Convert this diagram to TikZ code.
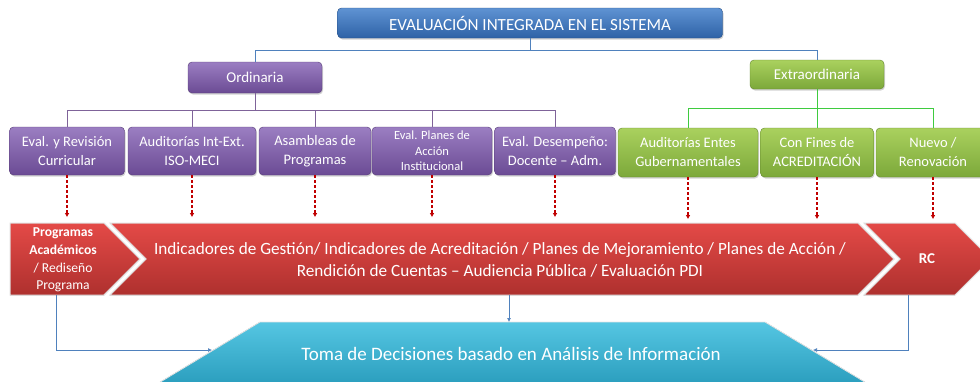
\documentclass[tikz,border=0pt]{standalone}
\usepackage{fontspec}
\setmainfont{Carlito}
\usetikzlibrary{positioning, arrows.meta, shadows}

\definecolor{bluetop}{HTML}{5F93D3}
\definecolor{bluebot}{HTML}{2E62A6}
\definecolor{purtop}{HTML}{9B7EC2}
\definecolor{purbot}{HTML}{6B4B94}
\definecolor{greentop}{HTML}{AAD15E}
\definecolor{greenbot}{HTML}{7CA83A}
\definecolor{redtop}{HTML}{E44A47}
\definecolor{redbot}{HTML}{AE302E}
\definecolor{cyantop}{HTML}{55C6E2}
\definecolor{cyanbot}{HTML}{2B9EBE}
\definecolor{lineblue}{HTML}{4F81BD}
\definecolor{linepur}{HTML}{7F6399}
\definecolor{linegreen}{HTML}{3FCB3F}
\definecolor{dashred}{HTML}{C00000}

\tikzset{
  box/.style={rounded corners=4pt, text=white, align=center, inner sep=2pt,
    font=\fontsize{14.5}{19}\selectfont,
    drop shadow={opacity=0.35, shadow xshift=1pt, shadow yshift=-1.5pt}},
  bluebox/.style={box, top color=bluetop, bottom color=bluebot, draw=bluebot!80!black},
  purbox/.style={box, top color=purtop, bottom color=purbot, draw=purbot!80!black},
  greenbox/.style={box, top color=greentop, bottom color=greenbot, draw=greenbot!80!black},
  band/.style={top color=redtop, bottom color=redbot, draw=white!75!gray, line width=1pt},
  bandtext/.style={text=white, align=center},
  blueline/.style={lineblue, line width=0.8pt},
  purline/.style={linepur, line width=0.8pt},
  greenline/.style={linegreen, line width=0.8pt},
  redarrow/.style={dashred, line width=1.5pt, dash pattern=on 3pt off 2pt, -{Latex[length=4pt, width=4.5pt]}},
  bluearrow/.style={lineblue, line width=0.7pt, -{Latex[length=4pt, width=4pt]}}
}

\begin{document}
\begin{tikzpicture}[x=1pt, y=-1pt]
\useasboundingbox (0,0) rectangle (980,381);

\node[bluebox, minimum width=385pt, minimum height=30pt, font=\fontsize{17}{19}\selectfont] (top) at (530,23) {EVALUACIÓN INTEGRADA EN EL SISTEMA};
\node[purbox, minimum width=134pt, minimum height=31pt, font=\fontsize{15}{17}\selectfont] (ord) at (255,77.5) {Ordinaria};
\node[greenbox, minimum width=134pt, minimum height=29pt, font=\fontsize{15}{17}\selectfont] (ext) at (817,74.5) {Extraordinaria};

\node[purbox, minimum width=115pt, minimum height=48pt] (p1) at (67,151) {Eval. y Revisión\\Curricular};
\node[purbox, minimum width=128pt, minimum height=48pt] (p2) at (192,151) {Auditorías Int-Ext.\\ISO-MECI};
\node[purbox, minimum width=112pt, minimum height=48pt] (p3) at (315,151) {Asambleas de\\Programas};
\node[purbox, minimum width=120pt, minimum height=48pt, font=\fontsize{12.5}{15.5}\selectfont] (p4) at (432,151) {Eval. Planes de\\Acción\\Institucional};
\node[purbox, minimum width=121pt, minimum height=48pt] (p5) at (555,151) {Eval. Desempeño:\\Docente -- Adm.};
\node[greenbox, minimum width=140pt, minimum height=49pt] (g1) at (688,152.5) {Auditorías Entes\\Gubernamentales};
\node[greenbox, minimum width=113pt, minimum height=49pt] (g2) at (817,152.5) {Con Fines de\\ACREDITACIÓN};
\node[greenbox, minimum width=114pt, minimum height=49pt] (g3) at (933,152.5) {Nuevo /\\Renovación};

\coordinate (bus) at (530,50);
\coordinate (pbus) at (255,110);
\coordinate (gbus) at (817,108);
\draw[blueline] (top.south) -- (bus);
\draw[blueline] (bus) -| (ord.north);
\draw[blueline] (bus) -| (ext.north);
\draw[purline] (ord.south) -- (pbus);
\foreach \n in {p1,p2,p3,p4,p5}
  \draw[purline] (pbus) -| (\n.north);
\draw[greenline] (ext.south) -- (gbus);
\foreach \n in {g1,g2,g3}
  \draw[greenline] (gbus) -| (\n.north);

\fill[band] (10,223) -- (104,223) -- (140,259) -- (104,295) -- (10,295) -- cycle;
\fill[band] (110,223) -- (858,223) -- (894,259) -- (858,295) -- (110,295) -- (146,259) -- cycle;
\fill[band] (864,223) -- (955,223) -- (991,259) -- (955,295) -- (864,295) -- (900,259) -- cycle;
\draw[white!75!gray, line width=1pt] (104,223) -- (140,259) -- (104,295);
\draw[white!75!gray, line width=1pt] (110,223) -- (146,259) -- (110,295);
\draw[white!75!gray, line width=1pt] (858,223) -- (894,259) -- (858,295);
\draw[white!75!gray, line width=1pt] (864,223) -- (900,259) -- (864,295);

\node[bandtext, font=\fontsize{13.6}{17.6}\selectfont] (prog) at (63,260) {\textbf{Programas}\\\textbf{Académicos}\\/ Rediseño\\Programa};
\node[bandtext, font=\fontsize{17.2}{22}\selectfont] (ind) at (500,260) {Indicadores de Gestión/ Indicadores de Acreditación / Planes de Mejoramiento / Planes de Acción /\\Rendición de Cuentas -- Audiencia Pública / Evaluación PDI};
\node[bandtext, font=\bfseries\fontsize{15}{17}\selectfont] (rc) at (927,259) {RC};

\foreach \n in {p1,p2,p3,p4,p5,g1,g2,g3}
  \draw[redarrow] (\n.south) -- ++(0,42);

\fill[top color=cyantop, bottom color=cyanbot, draw=white!80!gray, line width=0.8pt,
  drop shadow={opacity=0.3, shadow xshift=1pt, shadow yshift=-1.5pt}]
  (260,322) -- (765,322) -- (868,384) -- (157,384) -- cycle;
\node[text=white, font=\fontsize{19}{21}\selectfont] (toma) at (511,354) {Toma de Decisiones basado en Análisis de Información};

\coordinate (progout) at (56,295);
\coordinate (indout) at (509,295);
\coordinate (rcout) at (908,295);
\coordinate (tomatop) at (509,322);
\coordinate (tomaleft) at (212,350);
\coordinate (tomaright) at (813,350);
\draw[bluearrow] (indout) -- (tomatop);
\draw[bluearrow] (progout) |- (tomaleft);
\draw[bluearrow] (rcout) |- (tomaright);
\end{tikzpicture}
\end{document}
